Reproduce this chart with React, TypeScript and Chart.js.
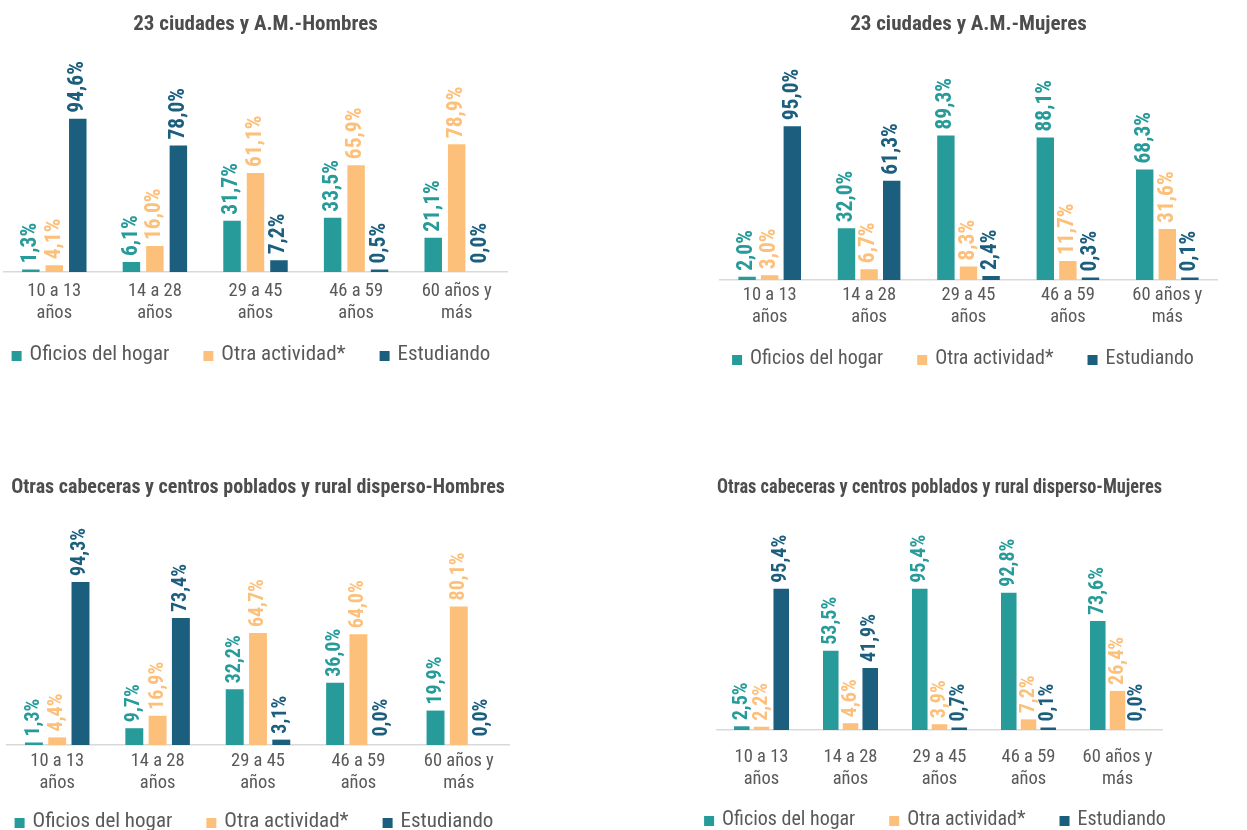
import React, { useEffect, useRef } from "react";
import { Chart, registerables } from "chart.js";

Chart.register(...registerables);

// ---------- DATA ----------
const CATEGORIES: string[][] = [
  ["10 a 13", "años"],
  ["14 a 28", "años"],
  ["29 a 45", "años"],
  ["46 a 59", "años"],
  ["60 años y", "más"],
];
const SERIES_NAMES = ["Oficios del hogar", "Otra actividad*", "Estudiando"];

// 23 ciudades y A.M. - Hombres
const CIU_HOMBRES_HOGAR = [1.3, 6.1, 31.7, 33.5, 21.1];
const CIU_HOMBRES_OTRA = [4.1, 16.0, 61.1, 65.9, 78.9];
const CIU_HOMBRES_ESTUD = [94.6, 78.0, 7.2, 0.5, 0.0];

// 23 ciudades y A.M. - Mujeres
const CIU_MUJERES_HOGAR = [2.0, 32.0, 89.3, 88.1, 68.3];
const CIU_MUJERES_OTRA = [3.0, 6.7, 8.3, 11.7, 31.6];
const CIU_MUJERES_ESTUD = [95.0, 61.3, 2.4, 0.3, 0.1];

// Otras cabeceras ... - Hombres
const OTR_HOMBRES_HOGAR = [1.3, 9.7, 32.2, 36.0, 19.9];
const OTR_HOMBRES_OTRA = [4.4, 16.9, 64.7, 64.0, 80.1];
const OTR_HOMBRES_ESTUD = [94.3, 73.4, 3.1, 0.0, 0.0];

// Otras cabeceras ... - Mujeres
const OTR_MUJERES_HOGAR = [2.5, 53.5, 95.4, 92.8, 73.6];
const OTR_MUJERES_OTRA = [2.2, 4.6, 3.9, 7.2, 26.4];
const OTR_MUJERES_ESTUD = [95.4, 41.9, 0.7, 0.1, 0.0];

const TITLES = [
  "23 ciudades y A.M.-Hombres",
  "23 ciudades y A.M.-Mujeres",
  "Otras cabeceras y centros poblados y rural disperso-Hombres",
  "Otras cabeceras y centros poblados y rural disperso-Mujeres",
];

// ---------- STYLE ----------
const COLORS = ["#269B9A", "#FDC07A", "#1B5E7E"];
const FONT = "'Roboto Condensed', 'Liberation Sans Narrow', Roboto, sans-serif";
const TEXT_COLOR = "#595959";
const TITLE_COLOR = "#4D4D4D";

const fmt = (v: number) => v.toFixed(1).replace(".", ",") + "%";

// rotated value labels above each bar
const barLabels = {
  id: "barLabels",
  afterDatasetsDraw(chart: any, _args: any, opts: any) {
    const ctx = chart.ctx;
    chart.data.datasets.forEach((ds: any, i: number) => {
      const meta = chart.getDatasetMeta(i);
      meta.data.forEach((el: any, j: number) => {
        const v = ds.data[j];
        const top = Math.min(el.y, el.base);
        ctx.save();
        ctx.translate(el.x, top - opts.gap);
        ctx.rotate(-Math.PI / 2);
        ctx.font = `bold ${opts.size}px ${FONT}`;
        ctx.fillStyle = COLORS[i];
        ctx.textAlign = "left";
        ctx.textBaseline = "middle";
        ctx.fillText(fmt(v), 0, 0);
        ctx.restore();
      });
    });
  },
};

// legend drawn in one centered row with wide gaps
const rowLegend = {
  id: "rowLegend",
  afterDraw(chart: any, _args: any, opts: any) {
    const ctx = chart.ctx;
    ctx.save();
    ctx.font = `${opts.size}px ${FONT}`;
    const items = chart.data.datasets.map((ds: any, i: number) => ({
      text: ds.label,
      color: COLORS[i],
      w: ctx.measureText(ds.label).width,
    }));
    const box = opts.box;
    const total =
      items.reduce((s: number, it: any) => s + box + opts.textGap + it.w, 0) +
      opts.itemGap * (items.length - 1);
    let x = opts.cx - total / 2;
    ctx.textBaseline = "middle";
    ctx.textAlign = "left";
    items.forEach((it: any) => {
      ctx.fillStyle = it.color;
      ctx.fillRect(x, opts.cy - box / 2 + 1, box, box);
      x += box + opts.textGap;
      ctx.fillStyle = TEXT_COLOR;
      ctx.fillText(it.text, x, opts.cy);
      x += it.w + opts.itemGap;
    });
    ctx.restore();
  },
};

type PanelCfg = {
  left: number;
  top: number;
  width: number;
  height: number;
  title: string;
  series: number[][];
  max: number;
  padL: number;
  padR: number;
  padB: number;
  titleSize: number;
  titleTop: number;
  titleBottom: number;
  tickPad: number;
  axisH: number;
  catPct: number;
  barPct: number;
  labelSize: number;
  legendSize: number;
  legendCx: number;
  legendCy: number;
};

function Panel({ cfg }: { cfg: PanelCfg }) {
  const ref = useRef<HTMLCanvasElement>(null);
  useEffect(() => {
    if (!ref.current) return;
    const chart = new Chart(ref.current, {
      type: "bar",
      data: {
        labels: CATEGORIES,
        datasets: cfg.series.map((d, i) => ({
          label: SERIES_NAMES[i],
          data: d,
          backgroundColor: (c: any) =>
            c.raw === 0 ? "rgba(0,0,0,0)" : COLORS[i],
          borderWidth: 0,
          minBarLength: 2.5,
          categoryPercentage: cfg.catPct,
          barPercentage: cfg.barPct,
        })),
      },
      options: {
        animation: false,
        responsive: false,
        events: [],
        layout: {
          padding: { left: cfg.padL, right: cfg.padR, top: 0, bottom: cfg.padB },
        },
        plugins: {
          title: {
            display: true,
            text: cfg.title,
            color: TITLE_COLOR,
            font: { family: FONT, size: cfg.titleSize, weight: "bold" },
            padding: { top: cfg.titleTop, bottom: cfg.titleBottom },
          },
          legend: { display: false },
          tooltip: { enabled: false },
          barLabels: { gap: 6, size: cfg.labelSize },
          rowLegend: {
            size: cfg.legendSize,
            box: 10,
            textGap: 8,
            itemGap: 34,
            cx: cfg.legendCx,
            cy: cfg.legendCy,
          },
        } as any,
        scales: {
          x: {
            grid: { display: false, drawTicks: false },
            border: { color: "#D9D9D9", width: 1.5 },
            ticks: {
              color: TEXT_COLOR,
              padding: cfg.tickPad,
              maxRotation: 0,
              autoSkip: false,
              font: { family: FONT, size: 18.5, lineHeight: 1.2 },
            },
            afterFit: (s: any) => {
              s.height = cfg.axisH;
            },
          },
          y: { display: false, min: 0, max: cfg.max },
        },
      },
      plugins: [barLabels, rowLegend],
    } as any);
    return () => chart.destroy();
  }, []);
  return (
    <div
      style={{
        position: "absolute",
        left: cfg.left,
        top: cfg.top,
        width: cfg.width,
        height: cfg.height,
      }}
    >
      <canvas
        ref={ref}
        width={cfg.width}
        height={cfg.height}
        style={{ width: cfg.width, height: cfg.height, display: "block" }}
      />
    </div>
  );
}

const PANELS: PanelCfg[] = [
  {
    left: 0, top: 0, width: 520, height: 380,
    title: TITLES[0],
    series: [CIU_HOMBRES_HOGAR, CIU_HOMBRES_OTRA, CIU_HOMBRES_ESTUD],
    max: 132.3, padL: 4, padR: 13, padB: 54,
    titleSize: 21, titleTop: 12.4, titleBottom: 20, tickPad: 8, axisH: 54,
    catPct: 0.7, barPct: 0.745, labelSize: 21.5,
    legendSize: 21, legendCx: 251, legendCy: 355,
  },
  {
    left: 700, top: 0, width: 547, height: 380,
    title: TITLES[1],
    series: [CIU_MUJERES_HOGAR, CIU_MUJERES_OTRA, CIU_MUJERES_ESTUD],
    max: 137.5, padL: 20, padR: 30, padB: 51,
    titleSize: 21, titleTop: 12.4, titleBottom: 20, tickPad: 4, axisH: 49,
    catPct: 0.682, barPct: 0.77, labelSize: 21.5,
    legendSize: 20, legendCx: 263, legendCy: 359,
  },
  {
    left: 0, top: 465, width: 525, height: 385,
    title: TITLES[2],
    series: [OTR_HOMBRES_HOGAR, OTR_HOMBRES_OTRA, OTR_HOMBRES_ESTUD],
    max: 130.1, padL: 7, padR: 16, padB: 55,
    titleSize: 20, titleTop: 11, titleBottom: 20, tickPad: 5, axisH: 50,
    catPct: 0.696, barPct: 0.77, labelSize: 20,
    legendSize: 21, legendCx: 254, legendCy: 357,
  },
  {
    left: 700, top: 465, width: 547, height: 385,
    title: TITLES[3],
    series: [OTR_MUJERES_HOGAR, OTR_MUJERES_OTRA, OTR_MUJERES_ESTUD],
    max: 141.9, padL: 17, padR: 85, padB: 59,
    titleSize: 20, titleTop: 11, titleBottom: 20, tickPad: 16, axisH: 61,
    catPct: 0.665, barPct: 0.787, labelSize: 20,
    legendSize: 20, legendCx: 235, legendCy: 355,
  },
];

export default function App() {
  return (
    <div
      style={{
        position: "absolute",
        left: 0,
        top: 0,
        width: 1247,
        height: 830,
        overflow: "hidden",
        background: "#ffffff",
      }}
    >
      {PANELS.map((p, i) => (
        <Panel key={i} cfg={p} />
      ))}
    </div>
  );
}
